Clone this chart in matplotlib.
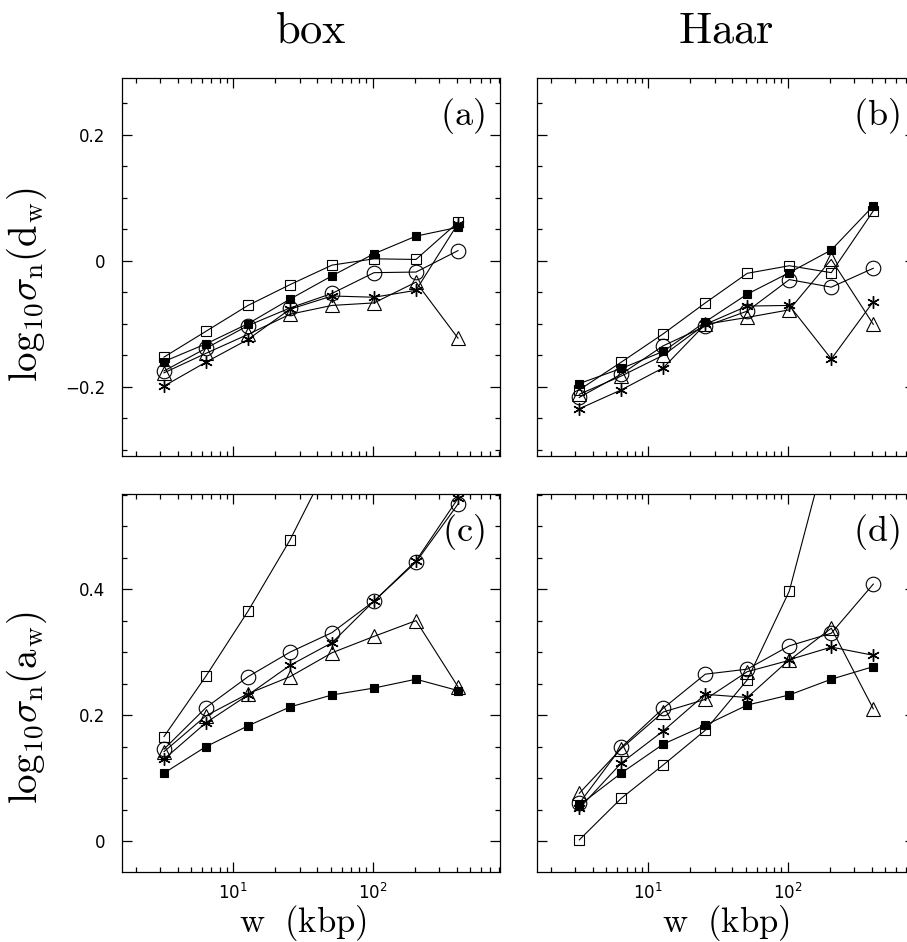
import matplotlib
matplotlib.use("Agg")
import matplotlib.pyplot as plt
from matplotlib.ticker import MultipleLocator, LogLocator, NullFormatter, FuncFormatter

plt.rcParams['font.family'] = ['DejaVu Sans']
plt.rcParams['mathtext.fontset'] = 'cm'

# window sizes (kbp)
w = [3.2, 6.4, 12.8, 25.6, 51.2, 102.4, 204.8, 409.6]

# panel (a): box, log10 sigma_n(d_w)
a_fsq = [-0.160, -0.132, -0.100, -0.061, -0.024, 0.011, 0.039, 0.053]
a_osq = [-0.153, -0.112, -0.071, -0.038, -0.007, 0.003, 0.002, 0.061]
a_cir = [-0.175, -0.139, -0.103, -0.075, -0.052, -0.019, -0.018, 0.016]
a_tri = [-0.178, -0.147, -0.117, -0.085, -0.071, -0.067, -0.034, -0.123]
a_star = [-0.199, -0.161, -0.125, -0.077, -0.056, -0.058, -0.047, 0.059]

# panel (b): Haar, log10 sigma_n(d_w)
b_fsq = [-0.195, -0.171, -0.144, -0.097, -0.053, -0.019, 0.017, 0.087]
b_osq = [-0.205, -0.161, -0.116, -0.067, -0.020, -0.008, -0.019, 0.079]
b_cir = [-0.217, -0.180, -0.135, -0.104, -0.080, -0.030, -0.042, -0.012]
b_tri = [-0.212, -0.183, -0.150, -0.101, -0.090, -0.078, 0.002, -0.101]
b_star = [-0.235, -0.205, -0.170, -0.101, -0.072, -0.071, -0.156, -0.065]

# panel (c): box, log10 sigma_n(a_w)
c_fsq = [0.108, 0.150, 0.183, 0.213, 0.232, 0.243, 0.257, 0.239]
c_osq = [0.166, 0.262, 0.365, 0.478, 0.61, 0.76, 0.92, 1.08]
c_cir = [0.146, 0.212, 0.261, 0.300, 0.331, 0.381, 0.443, 0.535]
c_tri = [0.142, 0.199, 0.234, 0.261, 0.299, 0.325, 0.350, 0.245]
c_star = [0.130, 0.188, 0.232, 0.279, 0.315, 0.381, 0.445, 0.544]

# panel (d): Haar, log10 sigma_n(a_w)
d_fsq = [0.057, 0.108, 0.154, 0.184, 0.216, 0.232, 0.257, 0.277]
d_osq = [0.002, 0.068, 0.121, 0.176, 0.256, 0.397, 0.65, 0.90]
d_cir = [0.060, 0.149, 0.211, 0.265, 0.273, 0.310, 0.330, 0.408]
d_tri = [0.076, 0.147, 0.205, 0.225, 0.269, 0.287, 0.338, 0.210]
d_star = [0.052, 0.124, 0.175, 0.233, 0.228, 0.288, 0.308, 0.295]

panel_letters = ['(a)', '(b)', '(c)', '(d)']
col_titles = ['box', 'Haar']
ylabels = [r'$\mathrm{log}_{10}\sigma_{\mathrm{n}}(\mathrm{d}_{\mathrm{w}})$',
           r'$\mathrm{log}_{10}\sigma_{\mathrm{n}}(\mathrm{a}_{\mathrm{w}})$']
xlabel = r'$\mathrm{w\ \ (kbp)}$'

panels = [
    [a_fsq, a_osq, a_cir, a_tri, a_star],
    [b_fsq, b_osq, b_cir, b_tri, b_star],
    [c_fsq, c_osq, c_cir, c_tri, c_star],
    [d_fsq, d_osq, d_cir, d_tri, d_star],
]

styles = [
    dict(marker='s', ms=5.5, mfc='black', mec='black', mew=0.8),
    dict(marker='s', ms=7.5, mfc='none', mec='black', mew=0.8),
    dict(marker='o', ms=10.5, mfc='none', mec='black', mew=0.8),
    dict(marker='^', ms=9.5, mfc='none', mec='black', mew=0.8),
    dict(marker=(6, 2, 0), ms=9, mfc='none', mec='black', mew=1.0),
]

W, H = 907, 942
fig = plt.figure(figsize=(W / 100, H / 100), dpi=100)

lefts = [122, 537.3]
tops = [78, 494]
size = 378
ylims = [(-0.31, 0.29), (-0.049, 0.551)]


def yfmt(v, pos):
    if abs(v) < 1e-9:
        return '0'
    return ('%.1f' % v).replace('-', '\u2212')


axes = []
for r in range(2):
    for c in range(2):
        rect = [lefts[c] / W, (H - tops[r] - size) / H, size / W, size / H]
        ax = fig.add_axes(rect)
        axes.append(ax)
        series = panels[2 * r + c]
        for ys, st in zip(series, styles):
            ax.plot(w, ys, color='black', lw=0.8, **st)
        ax.set_xscale('log')
        ax.set_xlim(1.6, 819.2)
        ax.set_ylim(*ylims[r])
        ax.yaxis.set_major_locator(MultipleLocator(0.2))
        ax.yaxis.set_minor_locator(MultipleLocator(0.05))
        ax.yaxis.set_major_formatter(FuncFormatter(yfmt))
        ax.xaxis.set_major_locator(LogLocator(base=10))
        ax.xaxis.set_minor_locator(LogLocator(base=10, subs=range(2, 10)))
        ax.xaxis.set_minor_formatter(NullFormatter())
        ax.tick_params(which='both', direction='in', top=True, right=True,
                       width=0.9, labelsize=12)
        ax.tick_params(which='major', length=7.2)
        ax.tick_params(which='minor', length=3.8)
        ax.tick_params(axis='y', which='major', pad=12)
        ax.tick_params(axis='x', which='major', pad=8)
        for sp in ax.spines.values():
            sp.set_linewidth(0.9)
        if r == 0:
            ax.tick_params(labelbottom=False)
        if c == 1:
            ax.tick_params(labelleft=False)
        ax.text(0.958, 0.9, r'$\mathrm{%s}$' % panel_letters[2 * r + c],
                transform=ax.transAxes, ha='right', va='center', fontsize=26)

# column titles
fig.text(311 / W, 1 - 30 / H, r'$\mathrm{%s}$' % col_titles[0], ha='center', va='center', fontsize=32)
fig.text(726 / W, 1 - 30 / H, r'$\mathrm{%s}$' % col_titles[1], ha='center', va='center', fontsize=32)

# y labels
fig.text(27 / W, 1 - 285 / H, ylabels[0], rotation=90, ha='center', va='center', fontsize=28)
fig.text(27 / W, 1 - 708 / H, ylabels[1], rotation=90, ha='center', va='center', fontsize=28)

# x labels
fig.text(303 / W, 1 - 932 / H, xlabel, ha='center', va='baseline', fontsize=25)
fig.text(726 / W, 1 - 932 / H, xlabel, ha='center', va='baseline', fontsize=25)

fig.savefig('out.png', dpi=100)
